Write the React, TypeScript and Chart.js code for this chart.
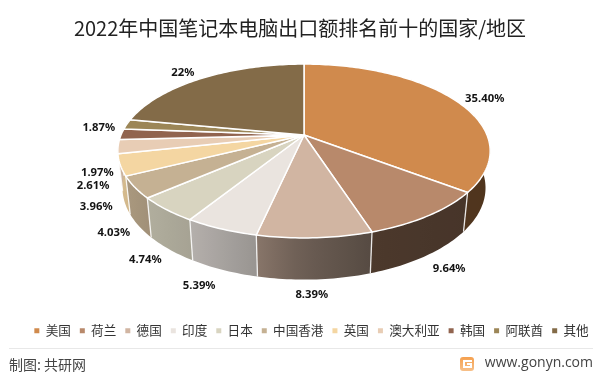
import React, { useEffect, useRef } from "react";
import { Chart, registerables } from "chart.js";

Chart.register(...registerables);

const titleText = "2022年中国笔记本电脑出口额排名前十的国家/地区";
const categories = ["美国", "荷兰", "德国", "印度", "日本", "中国香港", "英国", "澳大利亚", "韩国", "阿联酋", "其他"];
const values = [35.4, 9.64, 8.39, 5.39, 4.74, 4.03, 3.96, 2.61, 1.97, 1.87, 22];
const valueLabels = ["35.40%", "9.64%", "8.39%", "5.39%", "4.74%", "4.03%", "3.96%", "2.61%", "1.97%", "1.87%", "22%"];
const colors = ["#D08A4D", "#B8896B", "#D1B5A2", "#EAE4DF", "#D8D4C0", "#C5B193", "#F4D6A2", "#E8CDB5", "#91644F", "#9C8657", "#836B48"];

const CJK = '"Noto Sans CJK SC", "Noto Sans", sans-serif';

// Label nudges relative to each slice's rim point
const labelNudge = [
  [29, -1.5], [21, 53], [-3, 57], [-22, 57], [-21, 50.5], [-21, 46], [-24, 42], [-25, 39], [-24, 39], [-28, 3], [-19, -6],
];

// perspective disc -> screen
const cx = 304, cy = 135, rx = 183, ry = 84, k = 0.184;
const project = (t: number, r = 1) => {
  const w = 1 + k * r * Math.cos(t);
  return { x: cx + (rx * r * Math.sin(t)) / w, y: cy - (ry * r * Math.cos(t)) / w };
};
const drop = (p: { x: number; y: number }) => ({
  x: cx + (p.x - cx) * 0.975,
  y: p.y + 36 + 0.055 * (p.y - cy),
});

// wall shade by x position
const shadeStops = [[118, 0.88], [147, 0.82], [190, 0.77], [257, 0.65], [300, 0.52], [372, 0.41], [490, 0.38]];
const shadeAt = (x: number) => {
  for (let i = 1; i < shadeStops.length; i++) {
    const [x0, a] = shadeStops[i - 1];
    const [x1, b] = shadeStops[i];
    if (x <= x1) return a + ((b - a) * (Math.max(x, x0) - x0)) / (x1 - x0);
  }
  return 0.38;
};
const shaded = (hex: string, f: number) => {
  const n = parseInt(hex.slice(1), 16);
  const c = [(n >> 16) & 255, (n >> 8) & 255, n & 255].map((v) => Math.round(v * f));
  return `rgb(${c[0]},${c[1]},${c[2]})`;
};

const WALL_FROM = (70 * Math.PI) / 180;
const WALL_TO = (290 * Math.PI) / 180;
const LEGEND_SHIFT = 11.5;

const pie3d = {
  id: "pie3d",
  afterLayout(chart: any) {
    // the reference legend row sits right of centre
    chart.legend.left += LEGEND_SHIFT;
    chart.legend.right += LEGEND_SHIFT;
  },
  beforeDatasetDraw(chart: any) {
    const ctx: CanvasRenderingContext2D = chart.ctx;
    const arcs = chart.getDatasetMeta(0).data;
    const angles = arcs.map((a: any) => [a.startAngle + Math.PI / 2, a.endAngle + Math.PI / 2]);

    ctx.save();
    // side walls
    angles.forEach(([s, e]: number[], i: number) => {
      const a = Math.max(s, WALL_FROM);
      const b = Math.min(e, WALL_TO);
      if (b <= a) return;
      const n = Math.max(4, Math.ceil((b - a) / 0.02));
      const top: any[] = [];
      for (let j = 0; j <= n; j++) top.push(project(a + ((b - a) * j) / n));
      const bottom = top.map(drop);
      const xs = [...top, ...bottom].map((p) => p.x);
      const x0 = Math.min(...xs);
      const x1 = Math.max(...xs);
      const g = ctx.createLinearGradient(x0, 0, x1, 0);
      for (let j = 0; j <= 6; j++) {
        g.addColorStop(j / 6, shaded(colors[i], shadeAt(x0 + ((x1 - x0) * j) / 6)));
      }
      ctx.beginPath();
      top.forEach((p, j) => (j ? ctx.lineTo(p.x, p.y) : ctx.moveTo(p.x, p.y)));
      [...bottom].reverse().forEach((p) => ctx.lineTo(p.x, p.y));
      ctx.closePath();
      ctx.fillStyle = g;
      ctx.fill();
    });
    // wall dividers
    ctx.strokeStyle = "rgba(255,255,255,0.85)";
    ctx.lineWidth = 1.3;
    angles.forEach(([, e]: number[]) => {
      if (e <= WALL_FROM || e >= WALL_TO) return;
      const p = project(e);
      const q = drop(p);
      ctx.beginPath();
      ctx.moveTo(p.x, p.y);
      ctx.lineTo(q.x, q.y);
      ctx.stroke();
    });
    // top face
    angles.forEach(([s, e]: number[], i: number) => {
      const n = Math.max(4, Math.ceil((e - s) / 0.02));
      ctx.beginPath();
      ctx.moveTo(cx, cy);
      for (let j = 0; j <= n; j++) {
        const p = project(s + ((e - s) * j) / n);
        ctx.lineTo(p.x, p.y);
      }
      ctx.closePath();
      ctx.fillStyle = colors[i];
      ctx.fill();
      ctx.strokeStyle = "#fff";
      ctx.lineWidth = 1.5;
      ctx.lineJoin = "round";
      ctx.stroke();
    });
    // value labels
    ctx.fillStyle = "#141414";
    ctx.font = 'bold 11.3px "Noto Sans", sans-serif';
    ctx.textAlign = "center";
    ctx.textBaseline = "middle";
    angles.forEach(([s, e]: number[], i: number) => {
      const p = project((s + e) / 2);
      ctx.fillText(valueLabels[i], p.x + labelNudge[i][0], p.y + labelNudge[i][1]);
    });
    ctx.restore();
    return false;
  },
  afterDraw(chart: any) {
    const ctx: CanvasRenderingContext2D = chart.ctx;
    ctx.save();
    ctx.strokeStyle = "#E8E8E8";
    ctx.lineWidth = 1;
    ctx.beginPath();
    ctx.moveTo(9, 348.5);
    ctx.lineTo(593, 348.5);
    ctx.stroke();

    ctx.textBaseline = "middle";
    ctx.fillStyle = "#444";
    ctx.textAlign = "left";
    ctx.font = `14px ${CJK}`;
    ctx.fillText("制图: 共研网", 9, 365);
    ctx.textAlign = "right";
    ctx.font = '14px "Open Sans", sans-serif';
    ctx.fillText("www.gonyn.com", 593, 363);

    const g = ctx.createLinearGradient(0, 357, 0, 371);
    g.addColorStop(0, "#F5A04E");
    g.addColorStop(1, "#F7C089");
    ctx.fillStyle = g;
    ctx.beginPath();
    ctx.roundRect(460, 357, 14, 14, 3);
    ctx.fill();
    ctx.strokeStyle = "#fff";
    ctx.lineWidth = 2;
    ctx.beginPath();
    ctx.moveTo(472, 361);
    ctx.lineTo(464, 361);
    ctx.lineTo(464, 367);
    ctx.lineTo(471, 367);
    ctx.lineTo(471, 364);
    ctx.lineTo(467, 364);
    ctx.stroke();
    ctx.restore();
  },
};

export default function App() {
  const ref = useRef<HTMLCanvasElement>(null);
  useEffect(() => {
    document.body.style.margin = "0";
    const chart = new Chart(ref.current as HTMLCanvasElement, {
      type: "pie",
      data: {
        labels: categories,
        datasets: [{ data: values, backgroundColor: colors, borderWidth: 0 }],
      },
      plugins: [pie3d],
      options: {
        responsive: false,
        animation: false,
        layout: { padding: { top: 0, bottom: 29 } },
        plugins: {
          tooltip: { enabled: false },
          title: {
            display: true,
            text: titleText,
            color: "#222",
            font: { family: CJK, size: 20, weight: "normal" },
            padding: { top: 16, bottom: 10 },
          },
          legend: {
            position: "bottom",
            labels: {
              boxWidth: 5,
              boxHeight: 5,
              padding: 9,
              color: "#333",
              font: { family: CJK, size: 12.6 },
            },
          },
        },
      },
    } as any);
    return () => chart.destroy();
  }, []);
  return (
    <div style={{ position: "absolute", left: 0, top: 0, width: 600, height: 376 }}>
      <canvas ref={ref} width={600} height={376} style={{ display: "block" }} />
    </div>
  );
}
